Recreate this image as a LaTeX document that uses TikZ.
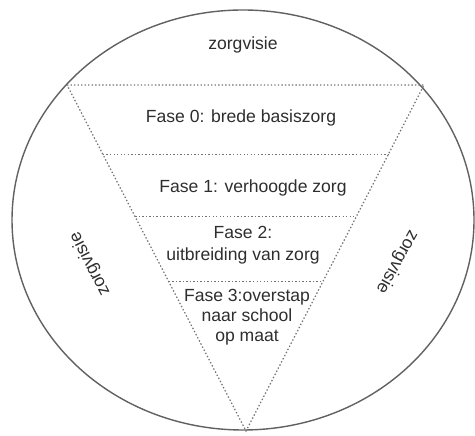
\documentclass[tikz,border=0pt]{standalone}
\usepackage{fontspec}
\setmainfont{Liberation Sans}
\usepackage{tikz}
\usetikzlibrary{calc, positioning}
\usepackage{xcolor}

\begin{document}
\begin{tikzpicture}[x = 0.02cm, y = 0.02cm, font = \fontsize{10}{11.5}\selectfont]
			\tikzstyle{rim} = [line width = 0.8pt, draw = black!62]
			\tikzstyle{split} = [line width = 0.7pt, draw = black!55, dash pattern = on 0.8pt off 1.2pt]
			\tikzstyle{label} = [text = black!82, align = center, inner sep = 1pt]

			\useasboundingbox (0, 0) rectangle (475, 435);

			% outer circle
			\draw[rim] (243, 215) ellipse [x radius = 231, y radius = 210];

			% triangle corners and phase lines
			\coordinate (tl) at (67, 350);
			\coordinate (tr) at (424, 350);
			\coordinate (apex) at (246, 4);
			\coordinate (l1) at ($(tl)!0.201!(apex)$);
			\coordinate (r1) at ($(tr)!0.201!(apex)$);
			\coordinate (l2) at ($(tl)!0.381!(apex)$);
			\coordinate (r2) at ($(tr)!0.381!(apex)$);
			\coordinate (l3) at ($(tl)!0.568!(apex)$);
			\coordinate (r3) at ($(tr)!0.568!(apex)$);

			\draw[split] (tl) -- (tr) -- (apex) -- cycle;
			\draw[split] (l1) -- (r1);
			\draw[split] (l2) -- (r2);
			\draw[split] (l3) -- (r3);

			\node[label] 				at (243, 390) 	(top) 	{zorgvisie};
			\node[label] 				at (241, 317) 	(f0) 	{Fase 0: brede basiszorg};
			\node[label] 				at (253, 247) 	(f1) 	{Fase 1: verhoogde zorg};
			\node[label] 				at (243, 190) 	(f2) 	{Fase 2:\\[1pt]uitbreiding van zorg};
			\node[label] 				at (247, 118) 	(f3) 	{Fase 3:overstap\\naar school\\op maat};
			\node[label, rotate = 117] 	at (90, 171) 	(left) 	{zorgvisie};
			\node[label, rotate = 241] 	at (397, 173) 	(right) {zorgvisie};
		\end{tikzpicture}
\end{document}
